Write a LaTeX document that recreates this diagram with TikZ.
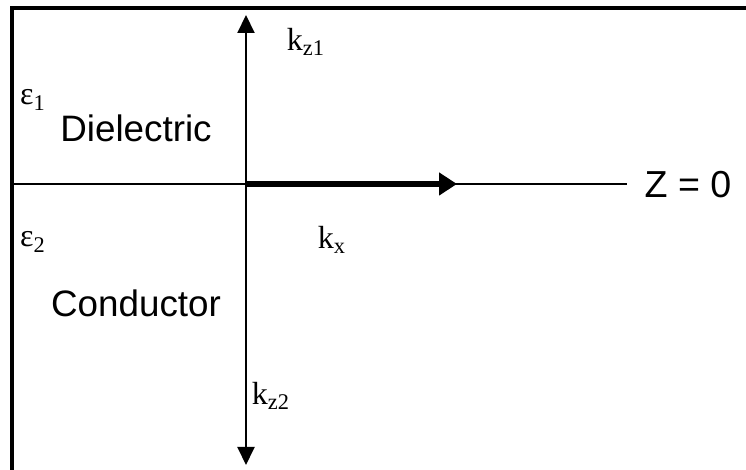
\documentclass[tikz,border=0pt]{standalone}
\usepackage{fontspec}
\setmainfont{Liberation Serif}
\newfontfamily\labelsans{Liberation Sans}
\usetikzlibrary{positioning,arrows.meta}

\begin{document}
\begin{tikzpicture}[x=0.5pt,y=0.5pt,
      axis/.style={line width=1pt,-{Triangle[length=9pt,width=8.5pt]}},
      region/.style={font=\labelsans\fontsize{18.4}{21}\selectfont,inner sep=0pt},
      wave/.style={font=\fontsize{16}{19}\selectfont,inner sep=0pt}]
    \useasboundingbox (0,0) rectangle (746,470);
    % frame (only top and left edges show)
    \draw[line width=1.6pt] (12,0) -- (12,462) -- (746,462);
    % interface and axes
    \coordinate (o) at (246,286);
    \coordinate (l) at (12,286);
    \coordinate (r) at (627,286);
    \coordinate (up) at (246,455);
    \coordinate (dn) at (246,5);
    \coordinate (kxe) at (457,286);
    \draw[line width=1pt] (l) -- (r);
    \draw[axis] (o) -- (up);
    \draw[axis] (o) -- (dn);
    \draw[line width=3pt,-{Triangle[length=9pt,width=11pt]}] (o) -- (kxe);
    % labels
    \node[region] (z) at (688,285) {\fontsize{18.8}{21}\selectfont Z = 0};
    \node[region] (diel) at (136,342) {Dielectric};
    \node[region] (cond) at (136,167) {Conductor};
    \node[wave] (e1) at (33,370) {ε\textsubscript{1}};
    \node[wave] (e2) at (33,228) {ε\textsubscript{2}};
    \node[wave] (kz1) at (306,428) {k\textsubscript{z1}};
    \node[wave] (kx) at (332,230) {k\textsubscript{x}};
    \node[wave] (kz2) at (271,74) {k\textsubscript{z2}};
  \end{tikzpicture}
\end{document}
